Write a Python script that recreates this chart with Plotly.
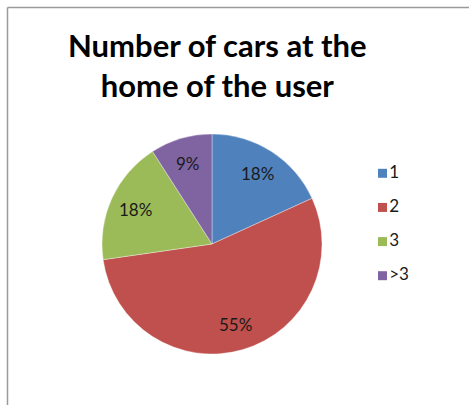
import math
import plotly.graph_objects as go

# Survey answers: number of cars per household
categories = ["1", "2", "3", ">3"]
counts = [2, 6, 2, 1]
colors = ["#4F81BD", "#C0504D", "#9BBB59", "#8064A2"]
title_text = "Number of cars at the<br>home of the user"

W, H = 469, 405
FONT = "Lato"

# Pie placement (pixel box, converted to paper fractions)
PIE_X0, PIE_X1 = 102, 322
PIE_Y0, PIE_Y1 = 134, 354  # from top
cx_px = (PIE_X0 + PIE_X1) / 2
cy_px = (PIE_Y0 + PIE_Y1) / 2
radius_px = (PIE_X1 - PIE_X0) / 2

fig = go.Figure()

fig.add_trace(go.Pie(
    labels=categories,
    values=counts,
    sort=False,
    direction="clockwise",
    rotation=0,
    marker=dict(colors=colors, line=dict(color="rgba(255,255,255,0.6)", width=0.6)),
    textinfo="none",
    domain=dict(x=[PIE_X0 / W, PIE_X1 / W], y=[1 - PIE_Y1 / H, 1 - PIE_Y0 / H]),
    showlegend=False,
    hoverinfo="label+percent",
))

# Percentage labels placed at each slice's mid-angle, about 3/4 of the radius out
total = sum(counts)
label_annotations = []
start = 0.0
for v in counts:
    frac = v / total
    mid = (start + frac / 2) * 2 * math.pi  # clockwise from 12 o'clock
    start += frac
    px = cx_px + 0.76 * radius_px * math.sin(mid)
    py = cy_px - 0.76 * radius_px * math.cos(mid)
    label_annotations.append(dict(
        text=f"{round(frac * 100)}%",
        xref="paper", yref="paper", x=px / W, y=1 - py / H,
        xanchor="center", yanchor="middle", showarrow=False,
        font=dict(family=FONT, size=17, color="#1a1a1a"),
    ))

# Legend drawn as a small scatter: one square swatch per category
fig.add_trace(go.Scatter(
    x=[0] * len(categories),
    y=list(range(len(categories))),
    mode="markers+text",
    marker=dict(symbol="square", size=9, color=colors),
    text=categories,
    textposition="middle right",
    textfont=dict(family=FONT, size=17, color="#1a1a1a"),
    cliponaxis=False,
    showlegend=False,
    hoverinfo="skip",
    xaxis="x", yaxis="y",
))

fig.update_layout(
    width=W, height=H,
    margin=dict(l=0, r=0, t=0, b=0),
    paper_bgcolor="white",
    plot_bgcolor="rgba(0,0,0,0)",
    xaxis=dict(domain=[378 / W, 1], range=[-0.5, 9.6], visible=False, fixedrange=True),
    yaxis=dict(domain=[1 - 275.7 / H, 1 - 173.3 / H], range=[len(categories) - 1, 0],
               visible=False, fixedrange=True),
    annotations=[dict(
        text="<b>" + title_text + "</b>",
        xref="paper", yref="paper",
        x=217 / W, y=1 - 65 / H,
        xanchor="center", yanchor="middle",
        showarrow=False,
        font=dict(family=FONT, size=31, color="black"),
    )] + label_annotations,
    shapes=[
        dict(type="line", xref="paper", yref="paper",
             x0=7.5 / W, x1=7.5 / W, y0=0, y1=1 - 7.5 / H,
             line=dict(color="#9a9a9a", width=1.5)),
        dict(type="line", xref="paper", yref="paper",
             x0=7.5 / W, x1=1, y0=1 - 7.5 / H, y1=1 - 7.5 / H,
             line=dict(color="#9a9a9a", width=1.5)),
    ],
)

fig.write_html("out.html")
